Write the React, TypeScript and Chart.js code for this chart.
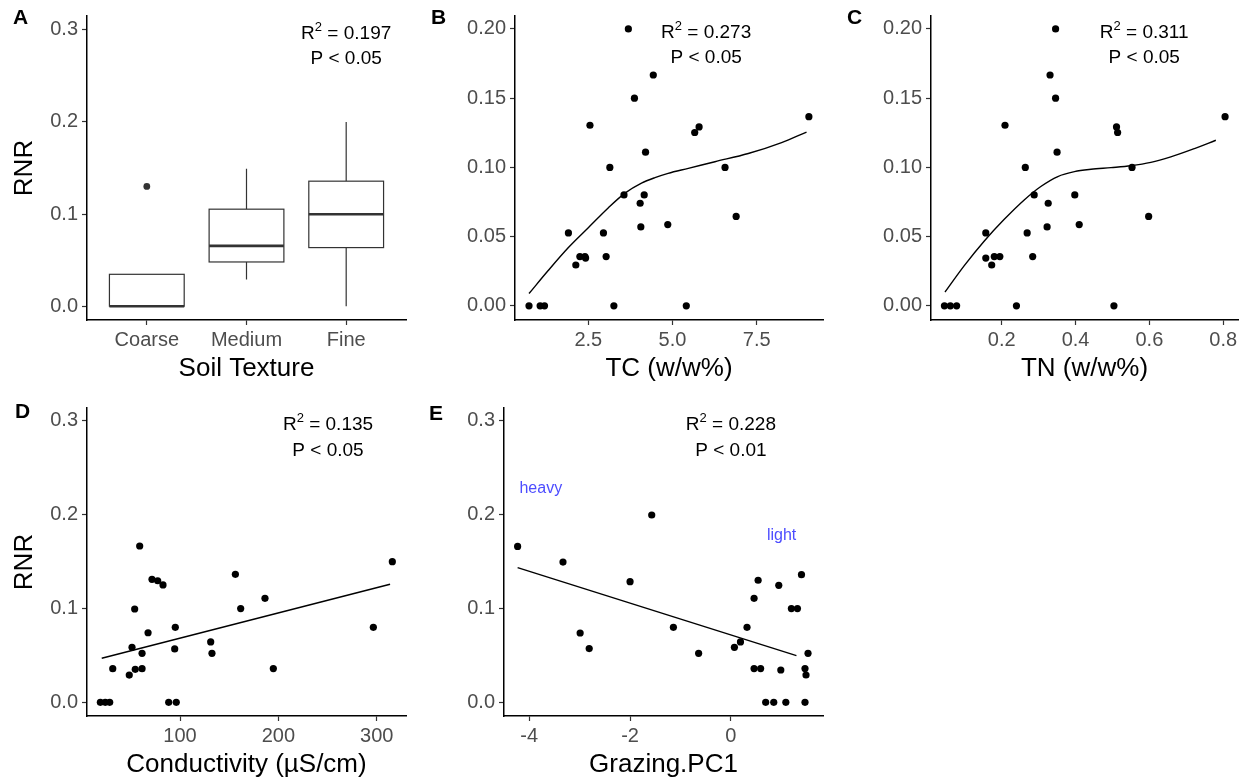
import React, { useEffect, useRef } from "react";
import { Chart, registerables } from "chart.js";
Chart.register(...registerables);

// ---------------- DATA ----------------
// Panel A: soil texture boxplots
const textureCategories = ["Coarse", "Medium", "Fine"];
const textureLowerWhisker = [0, 0.029, 0];
const textureQ1 = [0, 0.048, 0.0636];
const textureMedian = [0, 0.0655, 0.0998];
const textureQ3 = [0.0346, 0.1053, 0.1357];
const textureUpperWhisker = [0.0346, 0.1493, 0.2];
const textureOutlierCategory = [1];
const textureOutlierRnr = [0.13];

// Panel B: TC
const tcValues = [0.74, 1.07, 1.2, 1.91, 2.13, 2.25, 2.4, 2.42, 2.55, 2.95, 3.03, 3.14, 3.26, 3.56, 3.69, 3.87, 4.04, 4.06, 4.16, 4.2, 4.43, 4.86, 5.41, 5.66, 5.79, 6.56, 6.89, 9.05];
const tcRnr = [0, 0, 0, 0.0527, 0.0295, 0.0356, 0.0356, 0.0345, 0.1304, 0.0527, 0.0356, 0.1, 0, 0.0801, 0.2, 0.15, 0.0741, 0.057, 0.0801, 0.111, 0.1667, 0.0587, 0, 0.1252, 0.1292, 0.1, 0.0646, 0.1366];
const tcSmoothX = [0.74, 1.31, 1.91, 2.5, 3.09, 3.59, 4.08, 4.48, 4.87, 5.47, 6.26, 7.25, 8.24, 8.98];
const tcSmoothY = [0.0089, 0.0255, 0.0421, 0.0564, 0.0707, 0.0814, 0.0886, 0.0926, 0.0957, 0.0993, 0.1041, 0.11, 0.1179, 0.1255];

// Panel C: TN
const tnValues = [0.045, 0.061, 0.078, 0.157, 0.157, 0.173, 0.18, 0.195, 0.209, 0.24, 0.264, 0.269, 0.284, 0.288, 0.323, 0.326, 0.331, 0.346, 0.346, 0.35, 0.398, 0.41, 0.504, 0.511, 0.514, 0.553, 0.598, 0.805];
const tnRnr = [0, 0, 0, 0.0527, 0.0345, 0.0295, 0.0356, 0.0356, 0.1304, 0, 0.1, 0.0527, 0.0356, 0.0801, 0.057, 0.0741, 0.1667, 0.2, 0.15, 0.111, 0.0801, 0.0587, 0, 0.1292, 0.1252, 0.1, 0.0646, 0.1366];
const tnSmoothX = [0.0465, 0.0987, 0.153, 0.207, 0.261, 0.306, 0.352, 0.397, 0.442, 0.496, 0.55, 0.604, 0.658, 0.722, 0.78];
const tnSmoothY = [0.01, 0.0291, 0.0469, 0.0625, 0.0765, 0.0862, 0.0934, 0.0969, 0.0986, 0.0998, 0.1012, 0.1036, 0.1076, 0.1136, 0.1196];

// Panel D: conductivity
const condValues = [19, 24, 28.5, 31.6, 48.4, 51.2, 53.9, 54.5, 59, 61.4, 61.4, 67.5, 71.5, 77.3, 82.7, 88.5, 94.6, 95.2, 96.2, 131.2, 132.5, 156.3, 161.7, 186.4, 194.9, 296.6, 315.9];
const condRnr = [0, 0, 0, 0.0358, 0.029, 0.0586, 0.0994, 0.0351, 0.1665, 0.0522, 0.0358, 0.0741, 0.131, 0.1295, 0.125, 0, 0.0568, 0.0799, 0, 0.0643, 0.0522, 0.1363, 0.0998, 0.1108, 0.0359, 0.0799, 0.1498];
const condFitX = [20.4, 313.6];
const condFitY = [0.0469, 0.1257];

// Panel E: grazing PC1
const grazValues = [-4.23, -3.33, -2.99, -2.81, -2.0, -1.57, -1.14, -0.64, 0.07, 0.19, 0.32, 0.46, 0.46, 0.54, 0.59, 0.69, 0.85, 0.95, 0.99, 1.09, 1.2, 1.32, 1.4, 1.47, 1.49, 1.47, 1.53];
const grazRnr = [0.166, 0.1494, 0.0738, 0.0572, 0.1285, 0.1995, 0.0799, 0.0522, 0.0586, 0.0643, 0.0799, 0.1108, 0.0359, 0.13, 0.0359, 0, 0, 0.1246, 0.0344, 0, 0.0998, 0.0998, 0.136, 0.0359, 0.0291, 0, 0.0522];
const grazFitX = [-4.23, 1.3];
const grazFitY = [0.1434, 0.0497];

// Tick values
const rnrTicks = [0, 0.1, 0.2, 0.3];
const rnrFineTicks = [0, 0.05, 0.1, 0.15, 0.2];
const textureTicks = [1, 2, 3];
const tcTicks = [2.5, 5, 7.5];
const tnTicks = [0.2, 0.4, 0.6, 0.8];
const condTicks = [100, 200, 300];
const grazTicks = [-4, -2, 0];

// ---------------- STYLE / HELPERS ----------------
const FONT = '"Liberation Sans", Arial, Helvetica, sans-serif';
const TICK_LABEL_COLOR = "#4d4d4d";
const TITLE_SIZE = 26;
const POINT_R = 3.6;

const pts = (xs: number[], ys: number[]) => xs.map((x, i) => ({ x, y: ys[i] }));

function axis(o: any) {
  const cfg: any = {
    type: "linear",
    min: o.min,
    max: o.max,
    afterBuildTicks: (s: any) => {
      s.ticks = o.ticks.map((v: number) => ({ value: v }));
    },
    afterFit: (s: any) => {
      if (o.isY) s.width = o.size;
      else s.height = o.size;
    },
    ticks: {
      callback: o.fmt,
      color: TICK_LABEL_COLOR,
      font: { family: FONT, size: 20 },
      padding: o.isY ? 4 : 3,
      maxRotation: 0,
      autoSkip: false,
    },
    grid: {
      display: true,
      drawOnChartArea: false,
      drawTicks: true,
      tickLength: 5,
      tickColor: "#333333",
      tickWidth: 1.2,
    },
    border: { display: true, color: "#000000", width: 1.5 },
    title: {
      display: !!o.title,
      text: o.title || "",
      color: "#000000",
      font: { family: FONT, size: TITLE_SIZE },
      padding: o.isY ? { top: 9, bottom: 0 } : { top: 0, bottom: o.titlePad },
    },
  };
  return cfg;
}

function textPlugin(letter: string, lx: number, ly: number, notes: any[]) {
  return {
    id: "panelText" + letter,
    afterDraw(chart: any) {
      const { ctx, scales } = chart;
      ctx.save();
      ctx.fillStyle = "#000";
      ctx.font = `bold 21px ${FONT}`;
      ctx.textAlign = "left";
      ctx.textBaseline = "middle";
      ctx.fillText(letter, lx, ly);
      for (const n of notes) {
        const px = scales.x.getPixelForValue(n.x);
        const py = scales.y.getPixelForValue(n.y);
        ctx.fillStyle = n.color || "#000";
        ctx.textBaseline = "middle";
        const main = `${n.size}px ${FONT}`;
        if (n.sup) {
          const sup = `${Math.round(n.size * 0.68)}px ${FONT}`;
          ctx.font = main;
          const w1 = ctx.measureText(n.text).width;
          const w3 = ctx.measureText(n.rest).width;
          ctx.font = sup;
          const w2 = ctx.measureText(n.sup).width;
          const x0 = px - (w1 + w2 + w3) / 2;
          ctx.textAlign = "left";
          ctx.font = main;
          ctx.fillText(n.text, x0, py);
          ctx.font = sup;
          ctx.fillText(n.sup, x0 + w1, py - n.size * 0.36);
          ctx.font = main;
          ctx.fillText(n.rest, x0 + w1 + w2, py);
        } else {
          ctx.font = main;
          ctx.textAlign = "center";
          ctx.fillText(n.text, px, py);
        }
      }
      ctx.restore();
    },
  };
}

const boxPlugin = {
  id: "texturebox",
  beforeDatasetsDraw(chart: any) {
    const { ctx, scales } = chart;
    const xs = scales.x;
    const ys = scales.y;
    ctx.save();
    ctx.strokeStyle = "#333333";
    textureTicks.forEach((c, i) => {
      const xc = xs.getPixelForValue(c);
      const xl = xs.getPixelForValue(c - 0.375);
      const xr = xs.getPixelForValue(c + 0.375);
      const yLo = ys.getPixelForValue(textureLowerWhisker[i]);
      const yQ1 = ys.getPixelForValue(textureQ1[i]);
      const yMed = ys.getPixelForValue(textureMedian[i]);
      const yQ3 = ys.getPixelForValue(textureQ3[i]);
      const yHi = ys.getPixelForValue(textureUpperWhisker[i]);
      ctx.lineWidth = 1.2;
      ctx.beginPath();
      ctx.moveTo(xc, yLo);
      ctx.lineTo(xc, yQ1);
      ctx.moveTo(xc, yQ3);
      ctx.lineTo(xc, yHi);
      ctx.stroke();
      ctx.fillStyle = "#ffffff";
      ctx.fillRect(xl, yQ3, xr - xl, yQ1 - yQ3);
      ctx.strokeRect(xl, yQ3, xr - xl, yQ1 - yQ3);
      ctx.lineWidth = 2.6;
      ctx.beginPath();
      ctx.moveTo(xl, yMed);
      ctx.lineTo(xr, yMed);
      ctx.stroke();
    });
    ctx.restore();
  },
};

const pointDs = (data: any[], color = "#000000", r = POINT_R) => ({
  data,
  showLine: false,
  pointRadius: r,
  pointBackgroundColor: color,
  pointBorderWidth: 0,
  borderWidth: 0,
});
const lineDs = (data: any[], smooth = false) => ({
  data,
  showLine: true,
  pointRadius: 0,
  borderColor: "#000000",
  borderWidth: 1.4,
  cubicInterpolationMode: smooth ? "monotone" : "default",
  tension: 0,
  fill: false,
});

function baseOptions(padding: any, x: any, y: any) {
  return {
    responsive: false,
    animation: false,
    devicePixelRatio: 1,
    events: [],
    layout: { padding },
    plugins: { legend: { display: false }, tooltip: { enabled: false } },
    scales: { x, y },
  };
}

const f1 = (v: any) => Number(v).toFixed(1);
const f2 = (v: any) => Number(v).toFixed(2);
const f0 = (v: any) => String(v);

const panels = [
  {
    key: "A",
    left: 0,
    top: 0,
    w: 412,
    h: 390,
    config: () => ({
      type: "scatter",
      data: {
        datasets: [pointDs(pts(textureOutlierCategory, textureOutlierRnr), "#333333", 3.4)],
      },
      options: baseOptions(
        { top: 12, right: 6, left: 0, bottom: 0 },
        axis({ min: 0.4, max: 3.6, ticks: textureTicks, fmt: (v: any) => textureCategories[Number(v) - 1], size: 70, title: "Soil Texture", titlePad: 6 }),
        axis({ min: -0.015, max: 0.315, ticks: rnrTicks, fmt: f1, size: 87, isY: true, title: "RNR" })
      ),
      plugins: [
        boxPlugin,
        textPlugin("A", 13, 18, [
          { x: 3.0, y: 0.2957, size: 19, text: "R", sup: "2", rest: " = 0.197" },
          { x: 3.0, y: 0.269, size: 19, text: "P < 0.05" },
        ]),
      ],
    }),
  },
  {
    key: "B",
    left: 412,
    top: 0,
    w: 416,
    h: 390,
    config: () => ({
      type: "scatter",
      data: { datasets: [pointDs(pts(tcValues, tcRnr)), lineDs(pts(tcSmoothX, tcSmoothY), true)] },
      options: baseOptions(
        { top: 12, right: 5, left: 0, bottom: 0 },
        axis({ min: 0.324, max: 9.469, ticks: tcTicks, fmt: f1, size: 70, title: "TC (w/w%)", titlePad: 6 }),
        axis({ min: -0.0102, max: 0.2093, ticks: rnrFineTicks, fmt: f2, size: 103, isY: true })
      ),
      plugins: [
        textPlugin("B", 19, 18, [
          { x: 6.0, y: 0.1971, size: 19, text: "R", sup: "2", rest: " = 0.273" },
          { x: 6.0, y: 0.1793, size: 19, text: "P < 0.05" },
        ]),
      ],
    }),
  },
  {
    key: "C",
    left: 828,
    top: 0,
    w: 419,
    h: 390,
    config: () => ({
      type: "scatter",
      data: { datasets: [pointDs(pts(tnValues, tnRnr)), lineDs(pts(tnSmoothX, tnSmoothY), true)] },
      options: baseOptions(
        { top: 12, right: 9, left: 0, bottom: 0 },
        axis({ min: 0.0086, max: 0.84, ticks: tnTicks, fmt: f1, size: 70, title: "TN (w/w%)", titlePad: 6 }),
        axis({ min: -0.0102, max: 0.2093, ticks: rnrFineTicks, fmt: f2, size: 103, isY: true })
      ),
      plugins: [
        textPlugin("C", 19, 18, [
          { x: 0.586, y: 0.1971, size: 19, text: "R", sup: "2", rest: " = 0.311" },
          { x: 0.586, y: 0.1793, size: 19, text: "P < 0.05" },
        ]),
      ],
    }),
  },
  {
    key: "D",
    left: 0,
    top: 390,
    w: 412,
    h: 392,
    config: () => ({
      type: "scatter",
      data: { datasets: [pointDs(pts(condValues, condRnr)), lineDs(pts(condFitX, condFitY))] },
      options: baseOptions(
        { top: 18, right: 6, left: 0, bottom: 0 },
        axis({ min: 5.42, max: 329.8, ticks: condTicks, fmt: f0, size: 66, title: "Conductivity (µS/cm)", titlePad: 1.5 }),
        axis({ min: -0.0146, max: 0.3135, ticks: rnrTicks, fmt: f1, size: 87, isY: true, title: "RNR" })
      ),
      plugins: [
        textPlugin("D", 15, 22, [
          { x: 250.5, y: 0.2954, size: 19, text: "R", sup: "2", rest: " = 0.135" },
          { x: 250.5, y: 0.268, size: 19, text: "P < 0.05" },
        ]),
      ],
    }),
  },
  {
    key: "E",
    left: 412,
    top: 390,
    w: 416,
    h: 392,
    config: () => ({
      type: "scatter",
      data: { datasets: [pointDs(pts(grazValues, grazRnr)), lineDs(pts(grazFitX, grazFitY))] },
      options: baseOptions(
        { top: 18, right: 5, left: 0, bottom: 0 },
        axis({ min: -4.5, max: 1.827, ticks: grazTicks, fmt: f0, size: 66, title: "Grazing.PC1", titlePad: 1.5 }),
        axis({ min: -0.0146, max: 0.3135, ticks: rnrTicks, fmt: f1, size: 92, isY: true })
      ),
      plugins: [
        textPlugin("E", 17, 24, [
          { x: 0.0, y: 0.2954, size: 19, text: "R", sup: "2", rest: " = 0.228" },
          { x: 0.0, y: 0.268, size: 19, text: "P < 0.01" },
          { x: -3.77, y: 0.2272, size: 16, text: "heavy", color: "#4d4dff" },
          { x: 1.005, y: 0.1775, size: 16, text: "light", color: "#4d4dff" },
        ]),
      ],
    }),
  },
];

function Panel({ spec }: { spec: any }) {
  const ref = useRef<HTMLCanvasElement>(null);
  useEffect(() => {
    if (!ref.current) return;
    const chart = new Chart(ref.current, spec.config() as any);
    return () => chart.destroy();
  }, [spec]);
  return (
    <canvas
      ref={ref}
      width={spec.w}
      height={spec.h}
      style={{ position: "absolute", left: spec.left, top: spec.top, width: spec.w, height: spec.h, display: "block" }}
    />
  );
}

export default function App() {
  return (
    <div style={{ position: "absolute", left: 0, top: 0, width: 1247, height: 782, background: "#ffffff", overflow: "hidden" }}>
      {panels.map((p) => (
        <Panel key={p.key} spec={p} />
      ))}
    </div>
  );
}
